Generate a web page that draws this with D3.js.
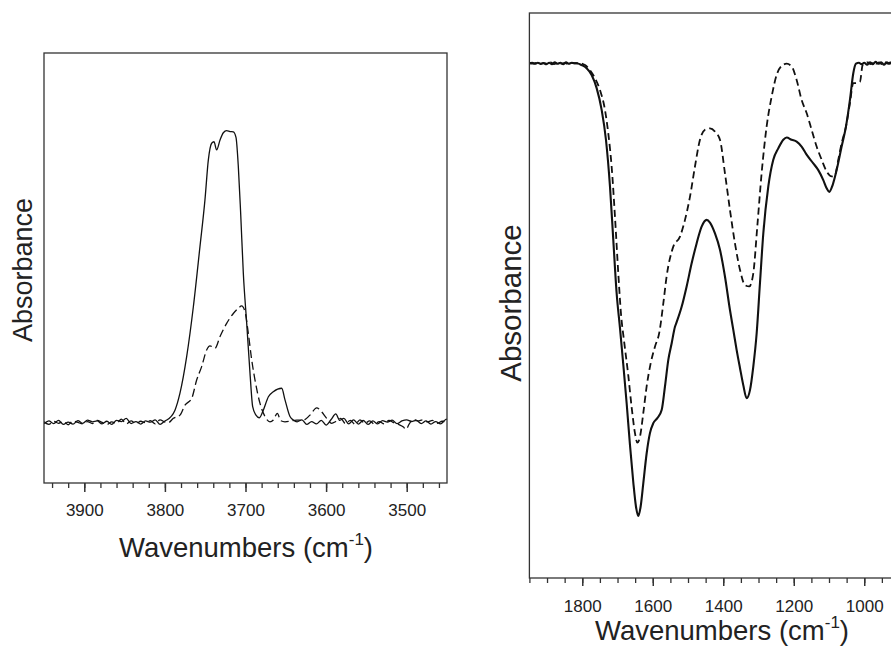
<!DOCTYPE html>
<html>
<head>
<meta charset="utf-8">
<script src="https://cdn.jsdelivr.net/npm/d3@7"></script>
<style>
  html, body { margin: 0; padding: 0; background: #fff; }
  svg { display: block; }
  text { font-family: Arial, "Liberation Sans", Helvetica, sans-serif; fill: #222; }
</style>
</head>
<body>
<svg id="chart" width="891" height="655"></svg>
<script>
// ---------- DATA ----------
// Left panel (OH stretching region)
const leftTickLabels = [3900, 3800, 3700, 3600, 3500];
const leftSolid = [
  [3950,-0.004],[3944,0.006],[3938,-0.003],[3932,0.008],[3926,-0.006],[3920,0.002],[3914,-0.005],
  [3908,0.007],[3902,-0.002],[3896,0.009],[3890,0.003],[3884,0.006],[3878,-0.004],[3872,0.005],
  [3866,-0.006],[3860,0.008],[3854,0.004],[3848,0.015],[3842,-0.003],[3836,0.004],[3830,-0.005],
  [3824,0.006],[3818,0.002],[3812,0.010],[3806,-0.006],[3800,0.006],[3797.8,0.009],
  [3787.5,0.043],[3781.3,0.101],[3773.0,0.226],[3764.7,0.397],[3756.5,0.603],[3750.3,0.763],
  [3746.1,0.900],[3742.0,0.957],[3739.1,0.962],[3735.8,0.934],[3731.6,0.968],[3727.5,0.993],
  [3723.4,1.000],[3719.2,0.997],[3715.1,0.996],[3711.8,0.977],[3708.9,0.877],[3706.0,0.717],
  [3702.7,0.512],[3698.5,0.340],[3694.4,0.169],[3691.1,0.055],[3687.0,0.026],[3682.8,0.017],
  [3677.9,0.043],[3671.6,0.089],[3665.5,0.106],[3655.1,0.118],[3651.0,0.078],[3644.8,0.021],
  [3640.7,0.009],[3636,0.003],[3630,0.010],[3624,-0.006],[3618,0.004],[3612,-0.004],[3606,0.008],
  [3600,-0.008],[3594,0.010],[3588,0.030],[3583,0.008],[3578,0.015],[3572,-0.004],[3566,0.010],
  [3560,-0.005],[3554,0.008],[3548,-0.006],[3542,0.006],[3536,-0.004],[3530,0.007],[3524,0.002],
  [3518,0.009],[3512,-0.003],[3506,0.006],[3500,0.010],[3494,0.004],[3488,0.008],[3482,-0.003],
  [3476,0.006],[3470,-0.005],[3464,0.004],[3458,-0.004],[3452,0.010],[3450,0.012]
];
const leftDashed = [
  [3950,0.003],[3944,-0.006],[3938,0.005],[3932,-0.002],[3926,0.004],[3920,-0.007],[3914,0.006],
  [3908,0.001],[3902,-0.004],[3896,0.004],[3890,-0.003],[3884,0.008],[3878,0.001],[3872,-0.006],
  [3866,0.003],[3860,-0.002],[3854,0.012],[3848,-0.004],[3842,0.006],[3836,-0.003],[3830,0.005],
  [3824,0.000],[3818,0.007],[3812,-0.004],[3806,0.010],[3800,0.002],[3795.7,0.000],
  [3789.5,0.015],[3781.3,0.026],[3775.1,0.060],[3766.8,0.083],[3760.6,0.146],[3754.4,0.192],
  [3748.2,0.249],[3744.1,0.263],[3737.8,0.255],[3731.6,0.295],[3723.4,0.340],[3715.1,0.374],
  [3708.9,0.392],[3704.8,0.400],[3700.6,0.380],[3696.5,0.306],[3692.3,0.215],[3688.2,0.146],
  [3682.0,0.066],[3675.8,0.021],[3669.6,0.003],[3665.5,0.009],[3660.5,0.032],[3656.4,0.007],
  [3651.0,0.003],[3636.5,0.009],[3628.3,0.009],[3620.0,0.026],[3611.7,0.051],[3605.5,0.037],
  [3599.3,0.015],[3593.1,-0.002],[3588,0.004],[3582,0.015],[3576,-0.003],[3570,0.008],[3564,-0.006],
  [3558,0.010],[3552,-0.002],[3546,0.006],[3540,-0.005],[3534,0.004],[3528,-0.004],[3522,0.008],
  [3516,0.000],[3510,-0.006],[3504,-0.015],[3501,-0.023],[3497,-0.005],[3492,0.012],[3486,0.006],
  [3480,0.010],[3474,0.003],[3468,0.008],[3462,-0.002],[3456,0.005],[3450,0.002]
];

// Right panel (fingerprint region)
const rightTickLabels = [1800, 1600, 1400, 1200, 1000];
const rightSolid = [
  [1950,0.000],[1942,0.001],[1934,-0.001],[1926,0.001],[1918,-0.001],[1910,0.000],[1902,-0.002],
  [1894,0.001],[1886,-0.002],[1878,0.002],[1870,-0.001],[1862,0.001],[1854,-0.002],[1846,0.002],
  [1838,-0.001],[1830,0.001],[1822,0.000],[1816,0.000],
  [1801.8,-0.004],[1787.6,-0.011],[1773.4,-0.026],[1759.2,-0.055],[1745.0,-0.103],[1732.8,-0.169],
  [1721.4,-0.272],[1712.0,-0.390],[1702.5,-0.508],[1693.0,-0.585],[1683.6,-0.666],[1674.1,-0.751],
  [1664.7,-0.843],[1655.2,-0.926],[1647.7,-0.979],[1641.0,-1.000],[1634.4,-0.979],[1626.9,-0.928],
  [1617.4,-0.862],[1608.0,-0.817],[1598.5,-0.795],[1587.1,-0.784],[1574.8,-0.766],[1565.4,-0.714],
  [1555.9,-0.655],[1546.5,-0.619],[1537.0,-0.582],[1532.3,-0.572],[1518.1,-0.538],[1503.9,-0.493],
  [1489.7,-0.442],[1475.6,-0.398],[1461.4,-0.361],[1447.2,-0.346],[1437.7,-0.352],[1423.5,-0.376],
  [1409.3,-0.412],[1395.2,-0.471],[1381.0,-0.545],[1371.5,-0.589],[1362.1,-0.633],[1352.6,-0.673],
  [1343.2,-0.711],[1333.7,-0.740],[1324.2,-0.722],[1314.8,-0.670],[1305.3,-0.597],[1295.9,-0.486],
  [1286.4,-0.376],[1272.2,-0.272],[1258.1,-0.213],[1243.9,-0.188],[1229.7,-0.169],[1220.2,-0.164],
  [1206.1,-0.169],[1191.8,-0.173],[1177.7,-0.184],[1163.5,-0.202],[1144.6,-0.221],[1130.4,-0.236],
  [1116.2,-0.258],[1106.7,-0.276],[1099.2,-0.284],[1089.7,-0.269],[1078.4,-0.236],[1064.2,-0.184],
  [1051.9,-0.140],[1040.6,-0.081],[1031.1,-0.022],[1023.5,-0.001],[1015,0.001],[1008,-0.002],
  [1000,0.001],[992,-0.003],[984,0.002],[976,-0.002],[968,0.003],[960,-0.001],[952,0.002],
  [944,-0.003],[936,0.002],[928,-0.001],[920,0.002],[912,-0.002],[904,0.001],[900,0.000]
];
const rightDashed = [
  [1950,0.000],[1940,-0.001],[1930,0.001],[1920,-0.002],[1910,0.001],[1900,-0.001],[1890,0.002],
  [1880,-0.002],[1870,0.001],[1860,-0.001],[1850,0.001],[1840,-0.002],[1830,0.001],[1820,0.000],
  [1806.5,0.000],[1792.3,-0.004],[1778.2,-0.015],[1764.0,-0.033],[1749.8,-0.059],[1735.6,-0.103],
  [1726.2,-0.155],[1716.7,-0.228],[1707.2,-0.339],[1697.8,-0.464],[1690.0,-0.555],[1682.0,-0.610],
  [1669.4,-0.690],[1659.9,-0.760],[1650.5,-0.817],[1643.9,-0.838],[1636.3,-0.825],[1626.9,-0.773],
  [1617.4,-0.714],[1606.0,-0.663],[1593.8,-0.626],[1581.5,-0.595],[1570.0,-0.530],[1560.7,-0.471],
  [1541.8,-0.405],[1522.8,-0.383],[1508.6,-0.346],[1494.5,-0.295],[1480.3,-0.228],[1466.1,-0.169],
  [1451.9,-0.147],[1437.7,-0.144],[1423.5,-0.151],[1409.3,-0.169],[1395.2,-0.243],[1381.0,-0.324],
  [1366.8,-0.398],[1352.6,-0.456],[1338.4,-0.490],[1326.2,-0.493],[1314.8,-0.464],[1303.5,-0.361],
  [1291.2,-0.243],[1277.0,-0.140],[1262.8,-0.074],[1248.6,-0.026],[1234.4,-0.006],[1220.2,-0.001],
  [1206.1,-0.007],[1191.8,-0.037],[1177.7,-0.081],[1163.5,-0.110],[1149.3,-0.147],[1135.1,-0.184],
  [1120.9,-0.213],[1106.7,-0.239],[1092.6,-0.250],[1083.1,-0.247],[1073.6,-0.213],[1064.2,-0.177],
  [1051.9,-0.140],[1040.6,-0.088],[1031.1,-0.044],[1023.5,-0.044],[1012.2,-0.041],[1004.6,-0.004],
  [998,0.000],[990,0.002],[982,-0.002],[974,0.003],[966,-0.001],[958,0.002],[950,-0.002],
  [942,0.003],[934,-0.001],[926,0.002],[918,-0.002],[910,0.001],[900,0.000]
];

// ---------- DRAW ----------
const svg = d3.select("#chart");
const FONT = 'Arial, "Liberation Sans", Helvetica, sans-serif';

function panel(cfg) {
  const x = d3.scaleLinear().domain(cfg.xDomain).range([cfg.left, cfg.right]);
  const y = d3.scaleLinear().domain(cfg.yDomain).range([cfg.bottom, cfg.top]);
  const g = svg.append("g");

  const clipId = "clip" + cfg.id;
  svg.append("clipPath").attr("id", clipId)
    .append("rect").attr("x", cfg.left).attr("y", cfg.top)
    .attr("width", cfg.right - cfg.left).attr("height", cfg.bottom - cfg.top);

  const line = d3.line().x(d => x(d[0])).y(d => y(d[1])).curve(d3.curveMonotoneX);
  const plot = g.append("g").attr("clip-path", `url(#${clipId})`);
  plot.append("path").datum(cfg.dashed).attr("d", line)
    .attr("fill", "none").attr("stroke", "#111").attr("stroke-width", cfg.dashWidth)
    .attr("stroke-dasharray", cfg.dashArray).attr("stroke-linejoin", "round");
  plot.append("path").datum(cfg.solid).attr("d", line)
    .attr("fill", "none").attr("stroke", "#111").attr("stroke-width", cfg.solidWidth)
    .attr("stroke-linejoin", "round");

  // frame
  g.append("rect").attr("x", cfg.left).attr("y", cfg.top)
    .attr("width", cfg.right - cfg.left).attr("height", cfg.bottom - cfg.top)
    .attr("fill", "none").attr("stroke", "#333").attr("stroke-width", 1.3);

  // minor ticks
  const minor = d3.range(cfg.minorStart, cfg.minorEnd - 1e-6, -cfg.minorStep);
  const minorAxis = d3.axisBottom(x).tickValues(minor).tickSize(cfg.minorLen).tickFormat("");
  const ma = g.append("g").attr("transform", `translate(0,${cfg.bottom})`).call(minorAxis);
  ma.select(".domain").remove();
  ma.selectAll("line").attr("stroke", "#333").attr("stroke-width", 1.3);

  // major ticks
  const majorAxis = d3.axisBottom(x).tickValues(cfg.ticks).tickSize(cfg.majorLen).tickPadding(cfg.pad).tickFormat(d3.format("d"));
  const mj = g.append("g").attr("transform", `translate(0,${cfg.bottom})`).call(majorAxis);
  mj.select(".domain").remove();
  mj.selectAll("line").attr("stroke", "#333").attr("stroke-width", 1.5);
  mj.selectAll("text").attr("font-size", 17).attr("font-family", FONT).attr("fill", "#222");

  // x title
  const t = g.append("text").attr("x", cfg.titleX).attr("y", cfg.titleY)
    .attr("text-anchor", "middle").attr("font-size", 27.5).attr("font-family", FONT);
  t.append("tspan").text("Wavenumbers (cm");
  t.append("tspan").attr("font-size", 17).attr("dy", -12).text("-1");
  t.append("tspan").attr("dy", 12).text(")");

  // y title
  g.append("text").attr("transform", `translate(${cfg.yLabelX},${cfg.yLabelY}) rotate(-90)`)
    .attr("text-anchor", "middle").attr("font-size", cfg.yFont).attr("font-family", FONT)
    .text("Absorbance");
}

panel({
  id: "L", xDomain: [3950, 3450], yDomain: [-0.2065, 1.266],
  left: 44, right: 447, top: 53, bottom: 483,
  solid: leftSolid, dashed: leftDashed, solidWidth: 1.3, dashWidth: 1.3, dashArray: "8,4",
  ticks: leftTickLabels, minorStart: 3940, minorEnd: 3450, minorStep: 20,
  minorLen: 5, majorLen: 9, pad: 12,
  titleX: 246, titleY: 557, yLabelX: 32, yLabelY: 270, yFont: 27
});

panel({
  id: "R", xDomain: [1950, 900], yDomain: [-1.137, 0.111],
  left: 529.4, right: 899.5, top: 13, bottom: 578,
  solid: rightSolid, dashed: rightDashed, solidWidth: 2.1, dashWidth: 1.8, dashArray: "7,4",
  ticks: rightTickLabels, minorStart: 1950, minorEnd: 900, minorStep: 50,
  minorLen: 5, majorLen: 8, pad: 14,
  titleX: 722, titleY: 640, yLabelX: 521, yLabelY: 303, yFont: 29.5
});
</script>
</body>
</html>
